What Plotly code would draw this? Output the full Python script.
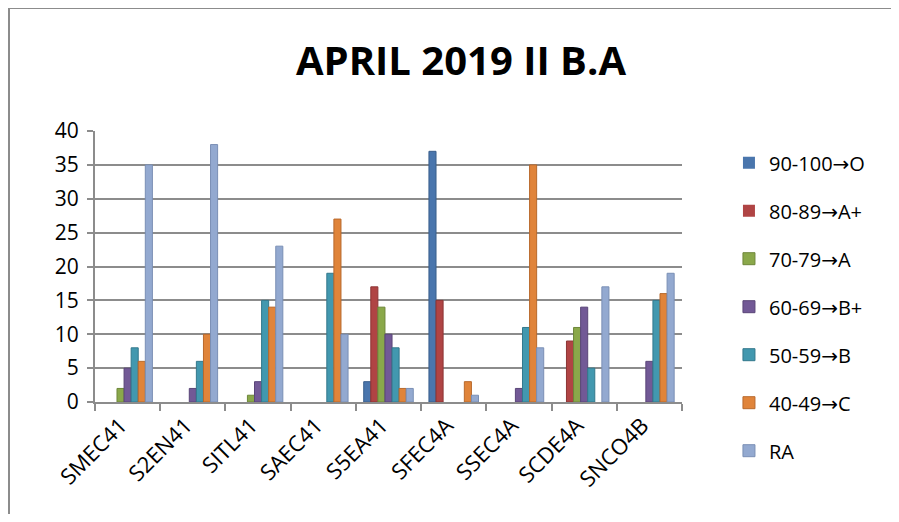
import plotly.graph_objects as go

# subjects on the x axis
subjects = ["SMEC41", "S2EN41", "SITL41", "SAEC41", "S5EA41",
            "SFEC4A", "SSEC4A", "SCDE4A", "SNCO4B"]

# number of students per grade band
grade_o = [0, 0, 0, 0, 3, 37, 0, 0, 0]
grade_a_plus = [0, 0, 0, 0, 17, 15, 0, 9, 0]
grade_a = [2, 0, 1, 0, 14, 0, 0, 11, 0]
grade_b_plus = [5, 2, 3, 0, 10, 0, 2, 14, 6]
grade_b = [8, 6, 15, 19, 8, 0, 11, 5, 15]
grade_c = [6, 10, 14, 27, 2, 3, 35, 0, 16]
grade_ra = [35, 38, 23, 10, 2, 1, 8, 17, 19]

series_names = ["90-100→O", "80-89→A+", "70-79→A", "60-69→B+",
                "50-59→B", "40-49→C", "RA"]
series_values = [grade_o, grade_a_plus, grade_a, grade_b_plus,
                 grade_b, grade_c, grade_ra]
colors = ["#4A76AD", "#B04444", "#8AA84A", "#725996",
          "#4298AF", "#E0843A", "#93A9D0"]
outlines = ["#3A5F8C", "#8C3434", "#6E873A", "#5A4678",
            "#33788C", "#B8692C", "#7A8FB5"]

font = "Open Sans, Liberation Sans, sans-serif"
arrow = "<span style='font-family:DejaVu Sans'>→</span>"

fig = go.Figure()
for i, (name, vals) in enumerate(zip(series_names, series_values)):
    fig.add_trace(go.Bar(
        x=subjects, y=vals, name=name.replace("→", arrow),
        marker=dict(color=colors[i],
                    line=dict(color=outlines[i],
                              width=[1 if v else 0 for v in vals])),
        legendgroup=name,
    ))

# page body has an 8px margin, so the figure is kept inside the window
fig.update_layout(
    width=883, height=506,
    margin=dict(l=87, r=209, t=123, b=112, autoexpand=False),
    paper_bgcolor="white", plot_bgcolor="white",
    barmode="group", bargap=0.24, bargroupgap=0,
    showlegend=True,
    legend=dict(x=1.08, y=0.955, xanchor="left", yanchor="top",
                font=dict(family=font, size=20, color="black"),
                tracegroupgap=19, itemwidth=30, maxheight=420),
    xaxis=dict(
        tickangle=-45, tickson="boundaries", ticks="outside", ticklen=7,
        tickcolor="#8C8C8C", tickwidth=2, ticklabelshift=-7,
        showline=True, linecolor="#8C8C8C", linewidth=2,
        tickfont=dict(family=font, size=22, color="black"),
        showgrid=False,
    ),
    yaxis=dict(
        range=[0, 40], dtick=5, ticks="outside", ticklen=6,
        tickcolor="#8C8C8C", tickwidth=2, ticklabelstandoff=4,
        showline=True, linecolor="#8C8C8C", linewidth=2,
        showgrid=True, gridcolor="#8C8C8C", gridwidth=2,
        tickfont=dict(family=font, size=21, color="black"),
        zeroline=False,
    ),
)

# title
fig.add_annotation(text="<b>APRIL 2019 II B.A</b>", xref="paper", yref="paper",
                   x=0.6235, y=1.262, xanchor="center", yanchor="middle",
                   showarrow=False, font=dict(family=font, size=40, color="black"))

# outer chart border (left and top edges visible)
fig.add_shape(type="line", xref="paper", yref="paper",
              x0=-0.1465, x1=-0.1465, y0=1.454, y1=-0.5,
              line=dict(color="#8C8C8C", width=2))
fig.add_shape(type="line", xref="paper", yref="paper",
              x0=-0.1465, x1=1.4, y0=1.454, y1=1.454,
              line=dict(color="#8C8C8C", width=2))

fig.write_html("out.html")
